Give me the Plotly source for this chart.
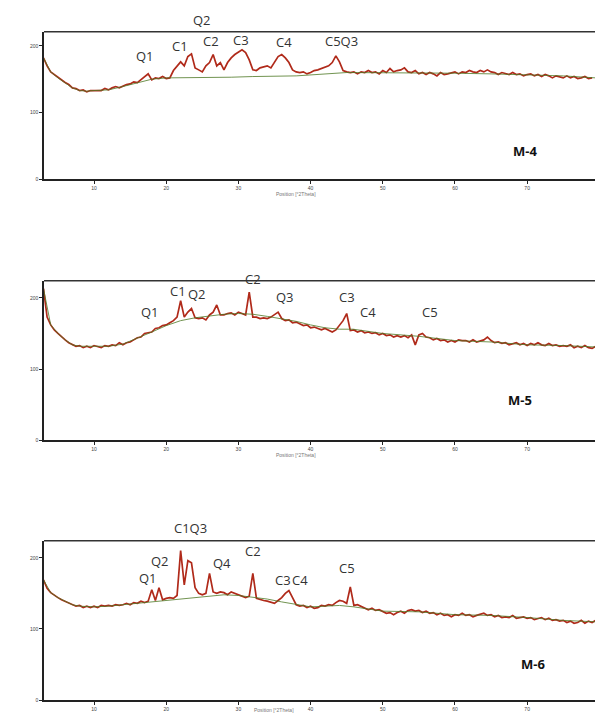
import numpy as np
import plotly.graph_objects as go

# 2-theta scan grid (degrees), shared by the three samples
two_theta = np.arange(3.0, 79.75, 0.5)

# Observed intensities (counts) for each sample on the 0.5 deg grid
m4_counts = [
    182, 170, 161, 157, 152, 148, 145, 142, 137, 136, 133, 134, 131, 133,
    133, 134, 133, 136, 134, 137, 139, 137, 140, 142, 143, 146, 145, 149,
    154, 158, 149, 152, 151, 154, 151, 152, 163, 170, 176, 170, 184, 188,
    167, 164, 161, 170, 175, 187, 170, 175, 164, 175, 182, 187, 191, 194,
    190, 179, 164, 163, 167, 169, 170, 167, 175, 184, 187, 182, 175, 164,
    161, 160, 161, 158, 160, 163, 164, 166, 167, 170, 175, 185, 176, 163,
    161, 160, 161, 158, 161, 160, 163, 160, 161, 158, 163, 160, 166, 161,
    163, 164, 167, 161, 160, 163, 158, 160, 157, 160, 158, 155, 160, 157,
    158, 160, 161, 158, 161, 160, 163, 161, 160, 163, 161, 164, 161, 160,
    157, 160, 158, 157, 160, 157, 158, 155, 157, 158, 155, 157, 154, 157,
    155, 152, 155, 154, 152, 155, 152, 154, 151, 152, 154, 151, 152,
]
m5_counts = [
    213, 173, 162, 155, 150, 145, 141, 137, 134, 132, 133, 130, 132, 130,
    133, 132, 130, 133, 132, 134, 133, 137, 134, 137, 138, 141, 144, 145,
    150, 151, 152, 157, 158, 161, 162, 165, 168, 173, 196, 173, 180, 185,
    172, 171, 172, 169, 176, 180, 190, 176, 176, 178, 179, 176, 180, 178,
    176, 208, 173, 173, 171, 172, 171, 173, 176, 180, 171, 168, 169, 165,
    166, 164, 161, 162, 158, 159, 157, 155, 157, 154, 152, 155, 161, 168,
    178, 154, 155, 152, 154, 151, 152, 150, 151, 148, 150, 147, 148, 145,
    147, 145, 147, 144, 148, 134, 148, 150, 145, 144, 141, 143, 140, 141,
    138, 140, 138, 141, 140, 140, 138, 141, 138, 140, 141, 145, 140, 137,
    138, 136, 137, 134, 136, 137, 134, 136, 133, 136, 134, 137, 134, 133,
    136, 133, 134, 132, 133, 132, 134, 130, 132, 130, 133, 130, 129, 132,
]
m6_counts = [
    169, 157, 151, 147, 144, 141, 139, 136, 134, 132, 133, 130, 132, 130,
    132, 130, 133, 132, 133, 132, 134, 133, 134, 136, 134, 137, 136, 139,
    137, 139, 155, 140, 158, 141, 143, 144, 143, 147, 210, 162, 196, 193,
    158, 150, 148, 150, 178, 152, 150, 152, 151, 148, 152, 150, 147, 146,
    144, 146, 178, 143, 141, 140, 139, 137, 136, 140, 144, 150, 154, 144,
    134, 132, 133, 130, 132, 129, 130, 133, 132, 134, 133, 137, 140, 139,
    136, 159, 133, 134, 132, 130, 127, 129, 126, 127, 125, 122, 123, 120,
    123, 125, 122, 126, 127, 125, 126, 123, 125, 122, 123, 120, 122, 119,
    120, 117, 120, 119, 122, 119, 120, 117, 119, 120, 122, 119, 120, 117,
    119, 116, 117, 116, 119, 115, 116, 117, 115, 116, 113, 115, 116, 113,
    115, 112, 113, 111, 112, 109, 111, 108, 109, 112, 108, 111, 109, 112,
]

# Fitted background for each sample (2-theta, counts)
m4_bg_theta = [3, 4, 5, 6, 7, 8, 9, 10, 12, 14, 16, 18, 20, 21, 25, 29, 32,
               38, 45, 50, 55, 60, 65, 70, 75, 79.5]
m4_bg = [182, 161, 152, 145, 137, 133, 132, 133, 134, 139, 145, 150, 152,
         152, 152, 153, 154, 155, 160, 160, 159, 159, 158, 157, 155, 152]
m5_bg_theta = [3, 4, 5, 6, 7, 8, 10, 12, 14, 16, 18, 20, 22, 24, 26, 28, 30,
               32, 34, 36, 38, 40, 42, 44, 45.9, 50, 55, 60, 65, 70, 75, 79.5]
m5_bg = [213, 162, 150, 141, 134, 132, 132, 132, 135, 143, 152, 161, 168,
         172, 175, 177, 178, 177, 174, 171, 167, 162, 158, 156, 156, 150,
         146, 140, 138, 134, 133, 131]
m6_bg_theta = [3, 4, 5, 6, 7, 8, 10, 12, 14, 16, 18, 20, 22, 24, 26, 28, 30,
               32, 34, 36, 38, 40, 44, 46, 50, 55, 60, 65, 70, 75, 79.5]
m6_bg = [169, 151, 144, 139, 134, 132, 131, 132, 134, 136, 138, 141, 142,
         145, 147, 148, 147, 145, 142, 138, 134, 131, 133, 131, 125, 124,
         120, 119, 116, 112, 110]

# Phase labels: (text, 2-theta, counts)
m4_labels = [("Q1", 17.1, 185), ("C1", 21.9, 200), ("Q2", 25.0, 239),
             ("C2", 26.2, 207), ("C3", 30.4, 209), ("C4", 36.3, 206),
             ("C5Q3", 44.3, 207)]
m5_labels = [("Q1", 17.8, 180), ("C1", 21.6, 210), ("Q2", 24.3, 206),
             ("C2", 32.0, 227), ("Q3", 36.5, 201), ("C3", 45.0, 201),
             ("C4", 47.9, 180), ("C5", 56.5, 180)]
m6_labels = [("C1Q3", 23.3, 242), ("Q2", 19.1, 196), ("Q1", 17.5, 172),
             ("Q4", 27.7, 193), ("C2", 32.0, 210), ("C3", 36.2, 169),
             ("C4", 38.5, 169), ("C5", 45.0, 185)]

sample_names = ["M-4", "M-5", "M-6"]
name_pos = [(69.7, 42), (69.0, 56), (70.8, 50)]

x_ticks = [10, 20, 30, 40, 50, 60, 70]
y_ticks = [0, 100, 200]
x_title = "Position [°2Theta]"

counts = [m4_counts, m5_counts, m6_counts]
bgs = [(m4_bg_theta, m4_bg), (m5_bg_theta, m5_bg), (m6_bg_theta, m6_bg)]
labels = [m4_labels, m5_labels, m6_labels]

H = 716
panel_px = [(32, 180), (282, 442), (543, 703)]
y_tops = [221, 224, 224]
x_range = [3.07, 79.4]
# caption placement (2-theta centre, pixel row)
caption_pos = [(38.0, 195), (38.0, 457), (35.0, 713)]

fig = go.Figure()
for i in range(3):
    n = "" if i == 0 else str(i + 1)
    xa, ya = "x" + n, "y" + n
    fig.add_trace(go.Scatter(x=two_theta, y=counts[i], mode="lines",
                             line=dict(color="#b02a1a", width=1.7),
                             xaxis=xa, yaxis=ya, showlegend=False))
    fig.add_trace(go.Scatter(x=bgs[i][0], y=bgs[i][1], mode="lines",
                             line=dict(color="#4f7a26", width=1),
                             opacity=0.8,
                             xaxis=xa, yaxis=ya, showlegend=False))
    top, bot = panel_px[i]
    dom = [1 - bot / H, 1 - top / H]
    axis_common = dict(showline=True, linecolor="#222", linewidth=1.5,
                       ticks="outside", ticklen=3, tickcolor="#222",
                       showgrid=False, zeroline=False,
                       tickfont=dict(size=5, color="#444", family="Liberation Sans"))
    fig.layout["xaxis" + n] = dict(axis_common, domain=[44 / 595, 1],
                                   range=x_range, tickvals=x_ticks,
                                   anchor=ya)
    fig.layout["yaxis" + n] = dict(axis_common, domain=dom,
                                   range=[0, y_tops[i]], tickvals=y_ticks,
                                   anchor=xa)
    # top frame line of the panel
    fig.add_shape(type="line", xref="paper", yref="paper",
                  x0=44 / 595, x1=1, y0=dom[1], y1=dom[1],
                  line=dict(color="#333", width=1.5))
    # axis caption under the tick labels
    cx, cy = caption_pos[i]
    fig.add_annotation(x=cx, xref=xa, y=1 - cy / H, yref="paper",
                       text=x_title, showarrow=False, xanchor="center",
                       yanchor="middle",
                       font=dict(size=5, color="#777", family="Liberation Sans"))
    for txt, tx, ty in labels[i]:
        fig.add_annotation(x=tx, y=ty / y_tops[i], xref=xa,
                           yref=ya + " domain", text=txt, showarrow=False,
                           xanchor="center", yanchor="middle",
                           font=dict(size=13, color="#333", family="Open Sans"))
    fig.add_annotation(x=name_pos[i][0], y=name_pos[i][1], xref=xa, yref=ya,
                       text="<b>" + sample_names[i] + "</b>", showarrow=False,
                       font=dict(size=13, color="#111", family="Open Sans"))

fig.update_layout(width=595, height=716, margin=dict(l=0, r=0, t=0, b=0),
                  paper_bgcolor="white", plot_bgcolor="white")
fig.write_html("out.html")
